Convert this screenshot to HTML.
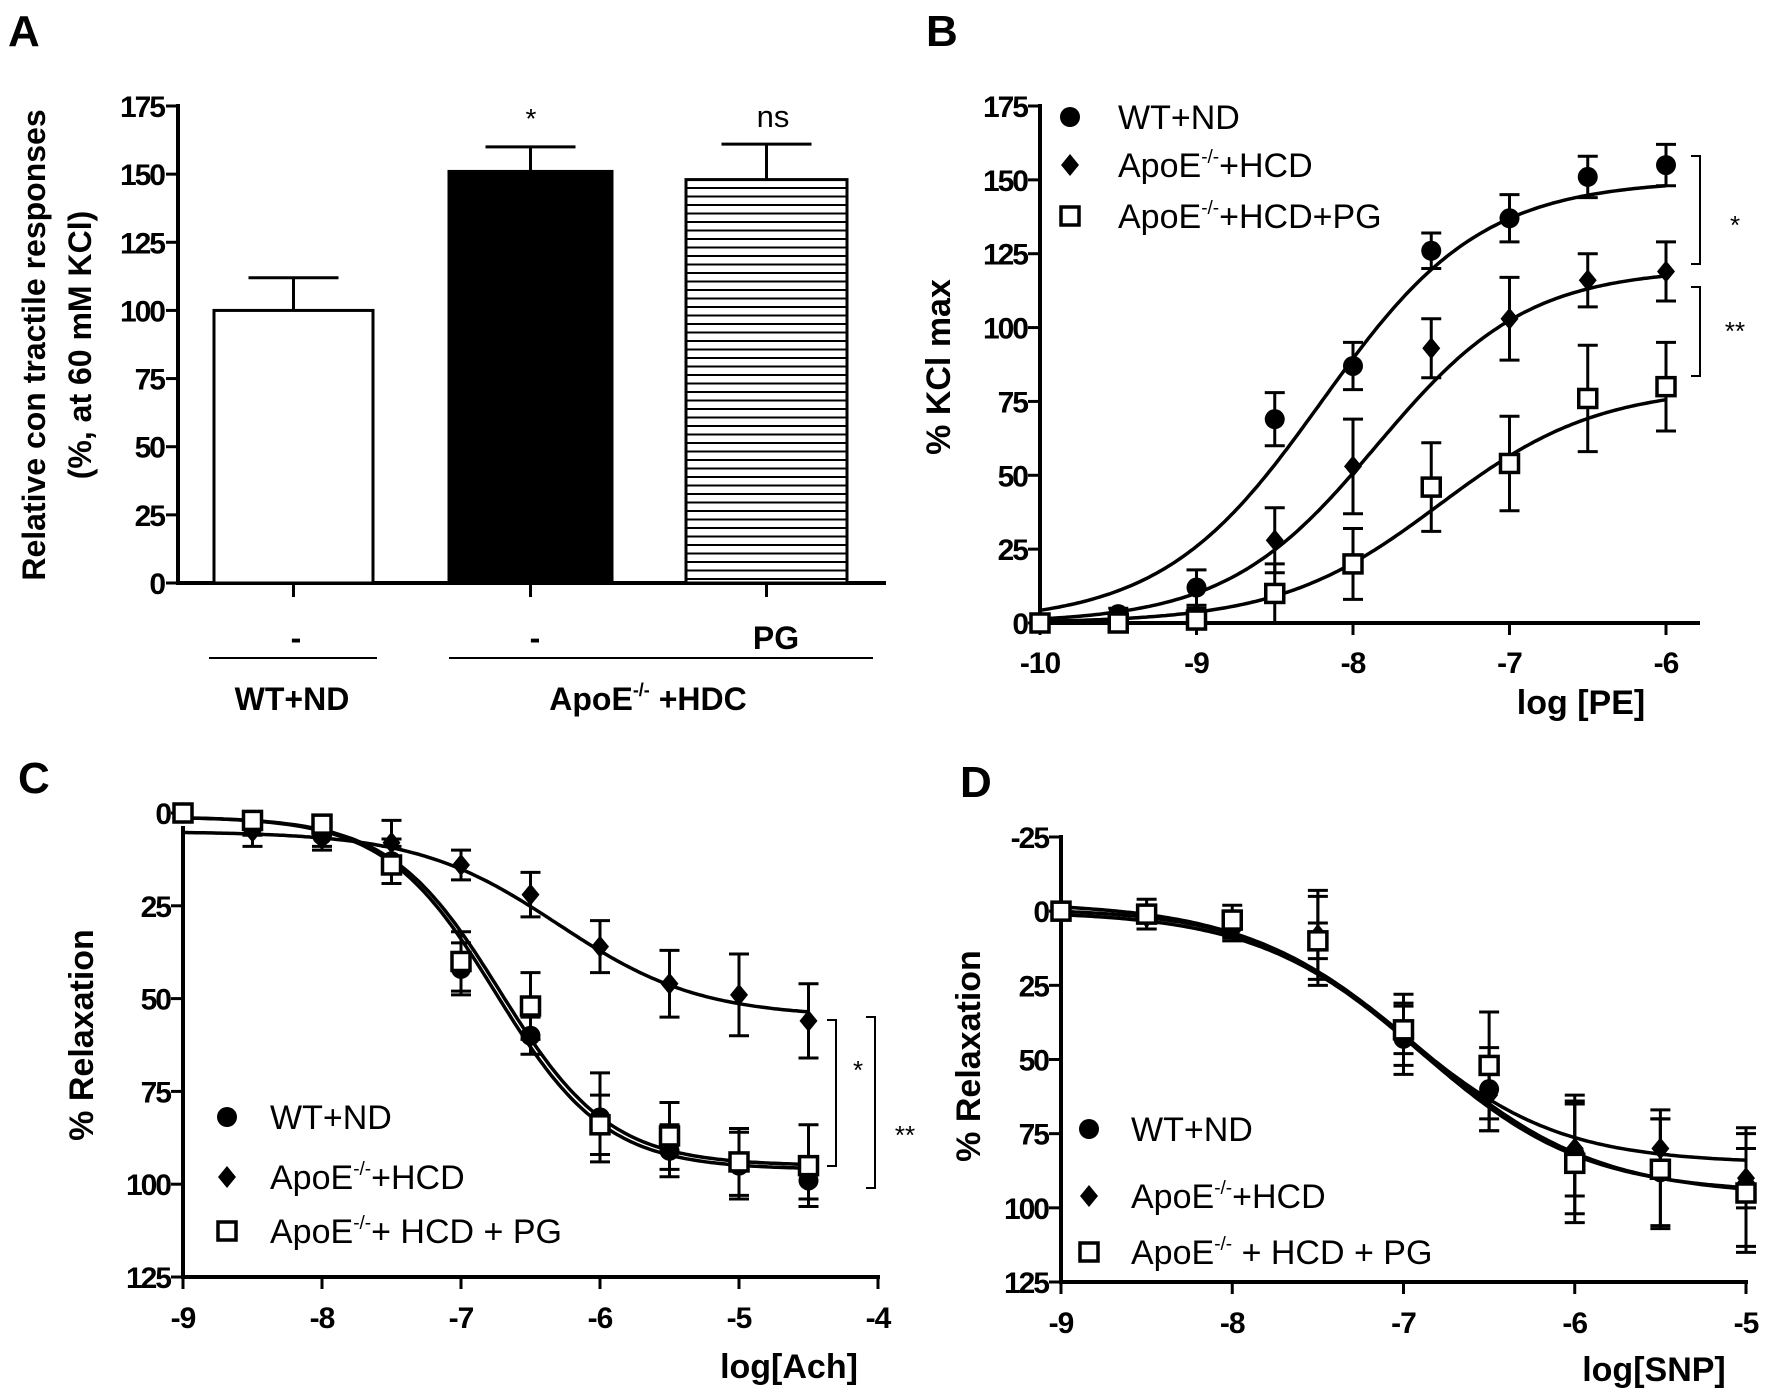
<!DOCTYPE html>
<html><head><meta charset="utf-8"><style>
html,body{margin:0;padding:0;background:#fff;overflow:hidden}
svg{display:block}
text{font-family:"Liberation Sans",Arial,sans-serif;fill:#000}
.b{font-weight:bold}
</style></head><body>
<svg id="fig" width="1772" height="1396" viewBox="0 0 1772 1396" xmlns="http://www.w3.org/2000/svg">
<defs>
<pattern id="hstripe" width="10" height="8.5" patternUnits="userSpaceOnUse"><rect width="10" height="8.5" fill="#fff"/><rect y="0" width="10" height="2" fill="#000"/></pattern>
</defs>
<g id="gA"></g>
<g id="gB"></g>
<g id="gC"></g>
<g id="gD"></g>
</svg>
<script>
// ---- Panel A data ----
const aCategories = ["WT+ND", "ApoE+HDC", "ApoE+HDC+PG"];
const aValues = [100, 151, 148];
const aErrors = [12, 9, 13];
const aTicks = [0, 25, 50, 75, 100, 125, 150, 175];
// ---- Panel B data ----
const bX = [-10, -9.5, -9, -8.5, -8, -7.5, -7, -6.5, -6];
const bWT = [0, 3, 12, 69, 87, 126, 137, 151, 155];
const bWTerr = [1, 2, 6, 9, 8, 6, 8, 7, 7];
const bApo = [0, 1, 3, 28, 53, 93, 103, 116, 119];
const bApoErr = [0, 1, 2, 11, 16, 10, 14, 9, 10];
const bPG = [0, 0, 1, 10, 20, 46, 54, 76, 80];
const bPGerr = [0, 0, 1, 10, 12, 15, 16, 18, 15];
const bFitWT = [0, 150, -8.2, 0.85];
const bFitApo = [0, 120, -7.85, 0.9];
const bFitPG = [0, 80, -7.45, 0.85];
const bXTicks = [-10, -9, -8, -7, -6];
const bYTicks = [0, 25, 50, 75, 100, 125, 150, 175];
// ---- Panel C data ----
const cX = [-9, -8.5, -8, -7.5, -7, -6.5, -6, -5.5, -5, -4.5];
const cWT = [0, 3, 6, 13, 42, 60, 82, 91, 95, 99];
const cWTerr = [1, 3, 3, 6, 7, 5, 12, 7, 9, 5];
const cApo = [0, 5, 7, 8, 14, 22, 36, 46, 49, 56];
const cApoErr = [1, 4, 3, 6, 4, 6, 7, 9, 11, 10];
const cPG = [0, 2, 3, 14, 40, 52, 84, 87, 94, 95];
const cPGerr = [0, 1, 2, 5, 8, 9, 8, 9, 9, 11];
const cFitWT = [1, 96, -6.75, 1.1];
const cFitApo = [5, 55, -6.3, 0.85];
const cFitPG = [1, 95, -6.72, 1.1];
const cXTicks = [-9, -8, -7, -6, -5, -4];
const cYTicks = [0, 25, 50, 75, 100, 125];
// ---- Panel D data ----
const dX = [-9, -8.5, -8, -7.5, -7, -6.5, -6, -5.5, -5];
const dWT = [0, 1, 5, 10, 43, 60, 82, 88, 93];
const dWTerr = [2, 5, 4, 15, 12, 14, 20, 18, 20];
const dApo = [0, 2, 4, 8, 40, 62, 80, 80, 90];
const dApoErr = [2, 4, 6, 15, 8, 12, 16, 10, 10];
const dPG = [0, 1, 3, 10, 40, 52, 85, 87, 95];
const dPGerr = [1, 3, 3, 6, 12, 18, 20, 20, 20];
const dFitWT = [0, 95, -6.9, 0.9];
const dFitApo = [-1, 85, -7.0, 0.95];
const dFitPG = [-3, 96, -6.9, 0.85];
const dXTicks = [-9, -8, -7, -6, -5];
const dYTicks = [-25, 0, 25, 50, 75, 100, 125];

const NS = "http://www.w3.org/2000/svg";
function mk(parent, tag, attrs, txt){
  const e = document.createElementNS(NS, tag);
  for (const k in attrs) e.setAttribute(k, attrs[k]);
  if (txt !== undefined) e.textContent = txt;
  parent.appendChild(e);
  return e;
}
function lin(d0, d1, r0, r1){ return v => r0 + (v - d0) * (r1 - r0) / (d1 - d0); }
function hill(p, x){ return p[0] + (p[1] - p[0]) / (1 + Math.pow(10, (p[2] - x) * p[3])); }

// ===== Panel A =====
(function(){
  const g = document.getElementById('gA');
  const y = lin(0, 175, 583, 106);
  let t = mk(g, 'text', {x: 8, y: 46, 'font-size': 44, class: 'b'}, 'A');
  
  
  let ax = mk(g, 'line', {x1: 178, y1: 104, x2: 178, y2: 585, stroke: '#000', 'stroke-width': 4});
  
  
  ax = mk(g, 'line', {x1: 176, y1: 583, x2: 886, y2: 583, stroke: '#000', 'stroke-width': 4});
  
  
  aTicks.forEach(v => {
    const tk = mk(g, 'line', {x1: 166, y1: y(v), x2: 178, y2: y(v), stroke: '#000', 'stroke-width': 3});
    
    
    const tl = mk(g, 'text', {x: 164, y: y(v) + 11, 'font-size': 30, class: 'b', 'text-anchor': 'end', 'letter-spacing': -2}, String(v));
    
    
  });
  const bx = [[214, 373], [449, 612], [686, 847]];
  const fills = ['#fff', '#000', 'url(#hstripe)'];
  aValues.forEach((v, i) => {
    const cx = (bx[i][0] + bx[i][1]) / 2;
    const eb = mk(g, 'path', {d: `M${cx},${y(v)} V${y(v + aErrors[i])} M${cx - 45},${y(v + aErrors[i])} H${cx + 45}`, stroke: '#000', 'stroke-width': 3, fill: 'none'});
    
    
    const r = mk(g, 'rect', {x: bx[i][0], y: y(v), width: bx[i][1] - bx[i][0], height: 583 - y(v), fill: fills[i], stroke: '#000', 'stroke-width': 3});
    
    
    const tk = mk(g, 'line', {x1: cx, y1: 583, x2: cx, y2: 597, stroke: '#000', 'stroke-width': 3});
    
    
  });
  t = mk(g, 'text', {x: 531, y: 128, 'font-size': 28, 'text-anchor': 'middle'}, '*');
  
  
  t = mk(g, 'text', {x: 773, y: 127, 'font-size': 31, 'text-anchor': 'middle'}, 'ns');
  
  
  [[296, '-'], [535, '-'], [776, 'PG']].forEach(p => {
    const tt = mk(g, 'text', {x: p[0], y: 649, 'font-size': 32, class: 'b', 'text-anchor': 'middle'}, p[1]);
    
    
  });
  let l = mk(g, 'line', {x1: 209, y1: 658, x2: 377, y2: 658, stroke: '#000', 'stroke-width': 2});
  
  
  l = mk(g, 'line', {x1: 449, y1: 658, x2: 873, y2: 658, stroke: '#000', 'stroke-width': 2});
  
  
  t = mk(g, 'text', {x: 292, y: 710, 'font-size': 32, class: 'b', 'text-anchor': 'middle'}, 'WT+ND');
  
  
  t = mk(g, 'text', {x: 648, y: 710, 'font-size': 32, class: 'b', 'text-anchor': 'middle'});
  t.innerHTML = 'ApoE<tspan font-size="18" dy="-14">-/-</tspan><tspan dy="14"> +HDC</tspan>';
  
  
  t = mk(g, 'text', {transform: 'translate(45,345) rotate(-90)', 'font-size': 32, class: 'b', 'text-anchor': 'middle'}, 'Relative con tractile responses');
  
  
  t = mk(g, 'text', {transform: 'translate(91,345) rotate(-90)', 'font-size': 32, class: 'b', 'text-anchor': 'middle'}, '(%, at 60 mM KCl)');
  
  
})();

function marker(g, type, cx, cy){
  let m;
  if (type === 'circle') m = mk(g, 'circle', {cx: cx, cy: cy, r: 10, fill: '#000'});
  else if (type === 'diamond') m = mk(g, 'path', {d: `M${cx},${cy - 11} L${cx + 9},${cy} L${cx},${cy + 11} L${cx - 9},${cy} Z`, fill: '#000'});
  else m = mk(g, 'rect', {x: cx - 9, y: cy - 9, width: 18, height: 18, fill: '#fff', stroke: '#000', 'stroke-width': 3.5});
  return m;
}
function curvePanel(g, o){
  const X = lin(o.xd[0], o.xd[1], o.xr[0], o.xr[1]);
  const Y = lin(o.yd[0], o.yd[1], o.yr[0], o.yr[1]);
  let a = mk(g, 'line', {x1: o.xr[0], y1: o.yAxisTop, x2: o.xr[0], y2: o.xAxisY + 2, stroke: '#000', 'stroke-width': 4});
  
  
  a = mk(g, 'line', {x1: o.xr[0] - 2, y1: o.xAxisY, x2: o.xEnd, y2: o.xAxisY, stroke: '#000', 'stroke-width': 4});
  
  
  o.yTicks.forEach(v => {
    const tk = mk(g, 'line', {x1: o.xr[0] - 12, y1: Y(v), x2: o.xr[0], y2: Y(v), stroke: '#000', 'stroke-width': 3});
    
    
    const tl = mk(g, 'text', {x: o.xr[0] - 13, y: Y(v) + 11, 'font-size': 30, class: 'b', 'text-anchor': 'end', 'letter-spacing': -2}, String(v));
    
    
  });
  o.xTicks.forEach(v => {
    const tk = mk(g, 'line', {x1: X(v), y1: o.xAxisY, x2: X(v), y2: o.xAxisY + 12, stroke: '#000', 'stroke-width': 3});
    
    
    const tl = mk(g, 'text', {x: X(v), y: o.xTickY + 2, 'font-size': 30, class: 'b', 'text-anchor': 'middle', 'letter-spacing': -1}, String(v));
    
    
  });
  o.series.forEach(s => {
    const pts = [];
    for (let i = 0; i <= 200; i++){
      const xv = o.x[0] + (o.x[o.x.length - 1] - o.x[0]) * i / 200;
      pts.push(X(xv).toFixed(1) + ',' + Y(hill(s.fit, xv)).toFixed(1));
    }
    const c = mk(g, 'polyline', {points: pts.join(' '), fill: 'none', stroke: '#000', 'stroke-width': 3.5});
    
    
    o.x.forEach((xv, i) => {
      const cx = X(xv), v = s.y[i], e = s.e[i];
      if (e > 0.5){
        const eb = mk(g, 'path', {d: `M${cx},${Y(v - e)} V${Y(v + e)} M${cx - 10},${Y(v - e)} H${cx + 10} M${cx - 10},${Y(v + e)} H${cx + 10}`, stroke: '#000', 'stroke-width': 3, fill: 'none'});
        
        
      }
      const m = marker(g, s.marker, cx, Y(v));
      
      
    });
  });
  o.legend.rows.forEach(r => {
    const m = marker(g, r.marker, o.legend.mx, r.y);
    
    
    const t = mk(g, 'text', {x: o.legend.tx, y: r.y + 12, 'font-size': 34});
    t.innerHTML = r.html;
    
    
  });
  let t = mk(g, 'text', {x: o.label[0], y: o.label[1], 'font-size': 44, class: 'b'}, o.label[2]);
  
  
  t = mk(g, 'text', {x: o.xTitle[0], y: o.xTitle[1], 'font-size': 34, class: 'b', 'text-anchor': 'middle'}, o.xTitle[2]);
  
  
  t = mk(g, 'text', {transform: `translate(${o.yTitle[0]},${o.yTitle[1]}) rotate(-90)`, 'font-size': 34, class: 'b', 'text-anchor': 'middle'}, o.yTitle[2]);
  
  
  (o.brackets || []).forEach(b => {
    const p = mk(g, 'path', {d: `M${b.x - 9},${b.y0} H${b.x} V${b.y1} H${b.x - 9}`, fill: 'none', stroke: '#000', 'stroke-width': 2});
    
    
    const s = mk(g, 'text', {x: b.sx, y: b.sy, 'font-size': 26, 'text-anchor': 'middle'}, b.s);
    
    
  });
}
const sup = (a, b) => a + '<tspan font-size="19" dy="-14">-/-</tspan><tspan dy="14">' + b + '</tspan>';

curvePanel(document.getElementById('gB'), {
  xd: [-10, -6], xr: [1040, 1666], yd: [0, 175], yr: [623, 106], xAxisY: 623, xEnd: 1700, yAxisTop: 104, xTickY: 671,
  x: bX, xTicks: bXTicks, yTicks: bYTicks,
  series: [
    {name: 'wt-nd', y: bWT, e: bWTerr, fit: bFitWT, marker: 'circle'},
    {name: 'apoe-hcd', y: bApo, e: bApoErr, fit: bFitApo, marker: 'diamond'},
    {name: 'apoe-hcd-pg', y: bPG, e: bPGerr, fit: bFitPG, marker: 'square'}],
  legend: {mx: 1070, tx: 1118, rows: [
    {marker: 'circle', y: 117, html: 'WT+ND'},
    {marker: 'diamond', y: 165, html: sup('ApoE', '+HCD')},
    {marker: 'square', y: 216, html: sup('ApoE', '+HCD+PG')}]},
  label: [926, 46, 'B'], xTitle: [1581, 714, 'log [PE]'], yTitle: [950, 367, '% KCl max'],
  brackets: [{x: 1700, y0: 156, y1: 264, sx: 1735, sy: 234, s: '*'},
             {x: 1700, y0: 287, y1: 376, sx: 1735, sy: 340, s: '**'}]
});
curvePanel(document.getElementById('gC'), {
  xd: [-9, -4], xr: [183, 878], yd: [0, 125], yr: [813, 1277], xAxisY: 1277, xEnd: 880, yAxisTop: 826, xTickY: 1326,
  x: cX, xTicks: cXTicks, yTicks: cYTicks,
  series: [
    {name: 'apoe-hcd', y: cApo, e: cApoErr, fit: cFitApo, marker: 'diamond'},
    {name: 'wt-nd', y: cWT, e: cWTerr, fit: cFitWT, marker: 'circle'},
    {name: 'apoe-hcd-pg', y: cPG, e: cPGerr, fit: cFitPG, marker: 'square'}],
  legend: {mx: 227, tx: 270, rows: [
    {marker: 'circle', y: 1117, html: 'WT+ND'},
    {marker: 'diamond', y: 1177, html: sup('ApoE', '+HCD')},
    {marker: 'square', y: 1231, html: sup('ApoE', '+ HCD + PG')}]},
  label: [18, 793, 'C'], xTitle: [789, 1378, 'log[Ach]'], yTitle: [93, 1035, '% Relaxation'],
  brackets: [{x: 836, y0: 1020, y1: 1166, sx: 858, sy: 1079, s: '*'},
             {x: 875, y0: 1017, y1: 1188, sx: 905, sy: 1144, s: '**'}]
});
curvePanel(document.getElementById('gD'), {
  xd: [-9, -5], xr: [1061, 1746], yd: [-25, 125], yr: [837, 1282], xAxisY: 1282, xEnd: 1748, yAxisTop: 835, xTickY: 1331,
  x: dX, xTicks: dXTicks, yTicks: dYTicks,
  series: [
    {name: 'apoe-hcd', y: dApo, e: dApoErr, fit: dFitApo, marker: 'diamond'},
    {name: 'wt-nd', y: dWT, e: dWTerr, fit: dFitWT, marker: 'circle'},
    {name: 'apoe-hcd-pg', y: dPG, e: dPGerr, fit: dFitPG, marker: 'square'}],
  legend: {mx: 1089, tx: 1131, rows: [
    {marker: 'circle', y: 1129, html: 'WT+ND'},
    {marker: 'diamond', y: 1196, html: sup('ApoE', '+HCD')},
    {marker: 'square', y: 1252, html: sup('ApoE', ' + HCD + PG')}]},
  label: [960, 797, 'D'], xTitle: [1654, 1381, 'log[SNP]'], yTitle: [980, 1056, '% Relaxation']
});
</script>
</body></html>
